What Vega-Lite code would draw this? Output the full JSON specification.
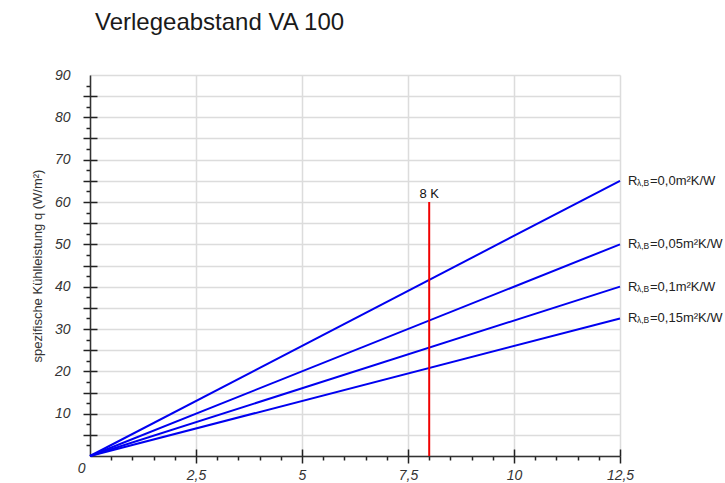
{
  "$schema": "https://vega.github.io/schema/vega-lite/v6.json",
  "width": 530,
  "height": 381,
  "autosize": {"type": "none"},
  "padding": {"left": 90, "top": 75, "right": 105, "bottom": 27},
  "title": {"text": "Verlegeabstand VA 100", "anchor": "start", "frame": "group", "fontSize": 24, "fontWeight": "normal", "font": "Liberation Sans", "color": "#1a1a1a", "dx": 5, "offset": 33},
  "config": {"view": {"stroke": null}, "font": "Liberation Sans"},
  "datasets": {
    "lines": [
      {"series": "0,0", "t": 0, "q": 0}, {"series": "0,0", "t": 12.5, "q": 65},
      {"series": "0,05", "t": 0, "q": 0}, {"series": "0,05", "t": 12.5, "q": 50},
      {"series": "0,1", "t": 0, "q": 0}, {"series": "0,1", "t": 12.5, "q": 40},
      {"series": "0,15", "t": 0, "q": 0}, {"series": "0,15", "t": 12.5, "q": 32.5}
    ],
    "labels": [
      {"t": 12.5, "q": 65, "R": "R", "sub": "λ,B", "rest": "=0,0m²K/W"},
      {"t": 12.5, "q": 50, "R": "R", "sub": "λ,B", "rest": "=0,05m²K/W"},
      {"t": 12.5, "q": 40, "R": "R", "sub": "λ,B", "rest": "=0,1m²K/W"},
      {"t": 12.5, "q": 32.5, "R": "R", "sub": "λ,B", "rest": "=0,15m²K/W"}
    ],
    "marker": [{"t": 8, "q0": 0, "q1": 60, "label": "8 K"}]
  },
  "layer": [
    {
      "data": {"name": "lines"},
      "mark": {"type": "line", "color": "#0000f0", "strokeWidth": 2},
      "encoding": {
        "x": {"field": "t", "type": "quantitative", "scale": {"domain": [0, 12.5], "nice": false, "zero": false},
          "axis": {
            "values": [0,0.5,1,1.5,2,2.5,3,3.5,4,4.5,5,5.5,6,6.5,7,7.5,8,8.5,9,9.5,10,10.5,11,11.5,12,12.5],
            "title": null, "grid": true, "gridColor": "#dcdcdc", "gridWidth": 1.5,
            "gridOpacity": {"condition": {"test": "datum.value % 2.5 === 0", "value": 1}, "value": 0},
            "domainColor": "#333", "domainWidth": 1.5,
            "tickColor": "#222", "tickWidth": 1.5,
            "tickSize": {"condition": {"test": "datum.value % 2.5 === 0", "value": 7}, "value": 4},
            "tickOpacity": {"condition": {"test": "datum.value === 0", "value": 0}, "value": 1},
            "labelExpr": "datum.value === 0 ? '0' : (datum.value % 2.5 === 0 ? replace(toString(datum.value), '.', ',') : '')",
            "labelFontStyle": "italic", "labelFontSize": 14, "labelColor": "#333", "labelFont": "Liberation Sans",
            "labelPadding": 5, "labelOverlap": false, "labelFlush": false, "labelBound": false,
            "labelAlign": {"condition": {"test": "datum.value === 0", "value": "right"}, "value": "center"},
            "labelOffset": {"condition": {"test": "datum.value === 0", "value": -5}, "value": 0},
            "labelBaseline": {"condition": {"test": "datum.value === 0", "value": "middle"}, "value": "top"}
          }},
        "y": {"field": "q", "type": "quantitative", "scale": {"domain": [0, 90], "nice": false},
          "axis": {
            "values": [0,2.5,5,7.5,10,12.5,15,17.5,20,22.5,25,27.5,30,32.5,35,37.5,40,42.5,45,47.5,50,52.5,55,57.5,60,62.5,65,67.5,70,72.5,75,77.5,80,82.5,85,87.5,90],
            "title": "spezifische Kühlleistung  q (W/m²)",
            "titleFont": "Liberation Sans", "titleFontSize": 13, "titleFontWeight": "normal", "titleColor": "#333", "titlePadding": 10,
            "grid": true, "gridColor": "#dcdcdc", "gridWidth": 1.5,
            "gridOpacity": {"condition": {"test": "datum.value % 5 === 0", "value": 1}, "value": 0},
            "domainColor": "#333", "domainWidth": 1.5,
            "tickColor": "#222", "tickWidth": 1.5,
            "tickSize": {"condition": {"test": "datum.value % 5 === 0", "value": 7}, "value": 4},
            "tickOpacity": {"condition": {"test": "datum.value === 0 || datum.value === 90", "value": 0}, "value": 1},
            "labelExpr": "datum.value % 10 === 0 && datum.value > 0 ? datum.label : ''",
            "labelFontStyle": "italic", "labelFontSize": 14, "labelColor": "#333", "labelFont": "Liberation Sans",
            "labelPadding": 13, "labelOverlap": false, "labelFlush": false, "labelBound": false
          }},
        "detail": {"field": "series"}
      }
    },
    {
      "data": {"name": "marker"},
      "mark": {"type": "rule", "color": "#f00000", "strokeWidth": 2},
      "encoding": {
        "x": {"field": "t", "type": "quantitative",
          "axis": {"values": [2.5,5,7.5,10,12.5], "offset": -7, "tickSize": 7, "domain": false, "labels": false, "grid": false, "title": null, "tickColor": "#222", "tickWidth": 1.5, "orient": "bottom"}},
        "y": {"field": "q0", "type": "quantitative",
          "axis": {"values": [5,10,15,20,25,30,35,40,45,50,55,60,65,70,75,80,85], "offset": -7, "tickSize": 7, "domain": false, "labels": false, "grid": false, "title": null, "tickColor": "#222", "tickWidth": 1.5, "orient": "left"}},
        "y2": {"field": "q1"}
      }
    },
    {
      "data": {"name": "marker"},
      "mark": {"type": "text", "baseline": "alphabetic", "align": "center", "dy": -4, "fontSize": 13, "color": "#111", "font": "Liberation Sans"},
      "encoding": {
        "x": {"field": "t", "type": "quantitative", "axis": null},
        "y": {"field": "q1", "type": "quantitative", "axis": null},
        "text": {"field": "label"}
      }
    },
    {
      "data": {"name": "labels"},
      "mark": {"type": "text", "baseline": "middle", "align": "left", "dx": 8, "fontSize": 13, "color": "#222", "font": "Liberation Sans"},
      "encoding": {
        "x": {"field": "t", "type": "quantitative", "axis": null},
        "y": {"field": "q", "type": "quantitative", "axis": null},
        "text": {"field": "R"}
      }
    },
    {
      "data": {"name": "labels"},
      "mark": {"type": "text", "baseline": "middle", "align": "left", "dx": 17, "dy": 2, "fontSize": 8.5, "color": "#222", "font": "Liberation Sans"},
      "encoding": {
        "x": {"field": "t", "type": "quantitative", "axis": null},
        "y": {"field": "q", "type": "quantitative", "axis": null},
        "text": {"field": "sub"}
      }
    },
    {
      "data": {"name": "labels"},
      "mark": {"type": "text", "baseline": "middle", "align": "left", "dx": 30, "fontSize": 13, "color": "#222", "font": "Liberation Sans"},
      "encoding": {
        "x": {"field": "t", "type": "quantitative", "axis": null},
        "y": {"field": "q", "type": "quantitative", "axis": null},
        "text": {"field": "rest"}
      }
    }
  ],
  "resolve": {"axis": {"x": "independent", "y": "independent"}}
}
